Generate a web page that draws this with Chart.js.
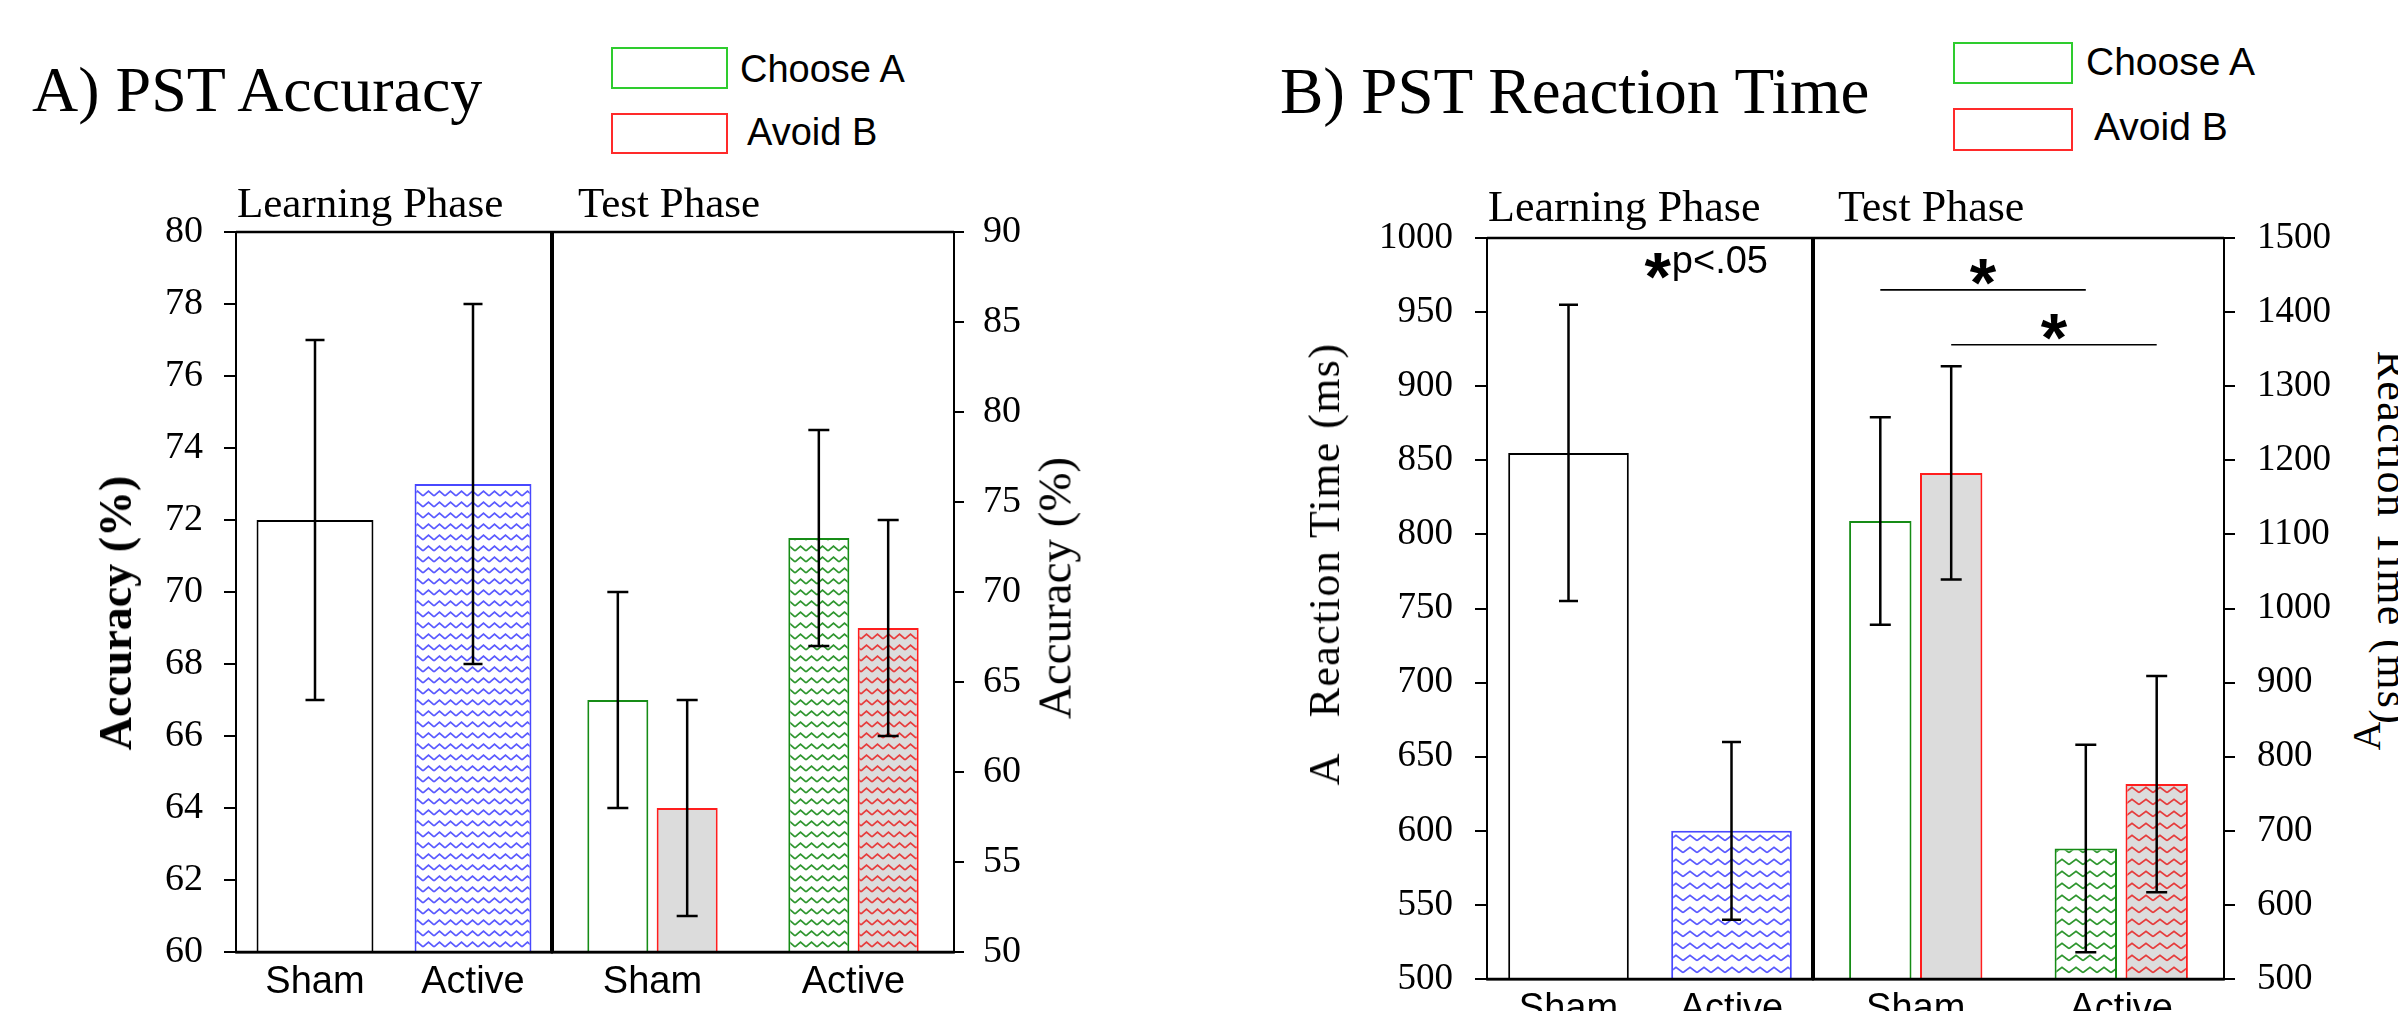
<!DOCTYPE html>
<html>
<head>
<meta charset="utf-8">
<script src="https://cdn.jsdelivr.net/npm/chart.js@4.4.1/dist/chart.umd.min.js"></script>
<style>
  html, body { margin: 0; padding: 0; background: #fff; }
  body { width: 2398px; height: 1011px; position: relative; overflow: hidden; }
  canvas { position: absolute; }
  .t { position: absolute; white-space: pre; line-height: 1; color: #000; }
  .serif { font-family: 'Liberation Serif', 'Times New Roman', serif; }
  .sans { font-family: 'Liberation Sans', Arial, sans-serif; }
  .box { position: absolute; box-sizing: border-box; border: 2px solid; background: #fff; }
</style>
</head>
<body>
<canvas id="accLearn"></canvas>
<canvas id="accTest"></canvas>
<canvas id="rtLearn"></canvas>
<canvas id="rtTest"></canvas>
<script>
// ---- data ----
const groups = ['Sham', 'Active'];

// panel A, accuracy (%)
const learnAcc = [72, 73];
const learnAccErr = [5, 5];
const testAccChooseA = [64, 73];      // right axis
const testAccChooseAErr = [6, 6];
const testAccAvoidB = [58, 68];
const testAccAvoidBErr = [6, 6];

// panel B, reaction time (ms)
const learnRT = [855, 600];
const learnRTErr = [100, 60];
const testRTChooseA = [1118, 676];    // right axis
const testRTChooseAErr = [140, 140];
const testRTAvoidB = [1183, 763];
const testRTAvoidBErr = [144, 146];

// significance bars over the test phase (right axis units)
const rtSigLines = [
  { dataset: 0, from: 0, to: 1, y: 1430 },
  { dataset: 1, from: 0, to: 1, y: 1356 }
];

// axis ranges [min, max, step]
const accLeftRange = [60, 80, 2];
const accRightRange = [50, 90, 5];
const rtLeftRange = [500, 1000, 50];
const rtRightRange = [500, 1500, 100];

const serif = "'Liberation Serif', 'Times New Roman', serif";
const sans = "'Liberation Sans', Arial, sans-serif";

// ---- text outside the plots ----
function addText(txt, x, baseline, size, cls, extra) {
  const d = document.createElement('div');
  d.className = 't ' + cls;
  d.textContent = txt;
  const k = cls === 'serif' ? 0.8375 : 0.8465;
  d.style.left = x + 'px';
  d.style.top = (baseline - k * size) + 'px';
  d.style.fontSize = size + 'px';
  if (extra) Object.assign(d.style, extra);
  document.body.appendChild(d);
}
function addRotated(txt, cx, cy, size, deg, extra) {
  const d = document.createElement('div');
  d.className = 't serif';
  d.textContent = txt;
  d.style.left = cx + 'px';
  d.style.top = cy + 'px';
  d.style.fontSize = size + 'px';
  d.style.transform = 'translate(-50%, -50%) rotate(' + deg + 'deg)';
  if (extra) Object.assign(d.style, extra);
  document.body.appendChild(d);
}
function addBox(x, y, w, h, color) {
  const d = document.createElement('div');
  d.className = 'box';
  Object.assign(d.style, { left: x + 'px', top: y + 'px', width: w + 'px', height: h + 'px', borderColor: color });
  document.body.appendChild(d);
}

addText('A) PST Accuracy', 32, 112, 64, 'serif');
addText('B) PST Reaction Time', 1280, 113, 65, 'serif');

addBox(611, 47, 117, 42, '#2ecc2e');
addBox(611, 113, 117, 41, '#ff2a2a');
addText('Choose A', 740, 82, 38, 'sans');
addText('Avoid B', 747, 145, 38, 'sans');

addBox(1953, 42, 120, 42, '#2ecc2e');
addBox(1953, 108, 120, 43, '#ff2a2a');
addText('Choose A', 2086, 75, 39, 'sans');
addText('Avoid B', 2094, 140, 39, 'sans');

addText('Learning Phase', 237, 217, 43, 'serif');
addText('Test Phase', 578, 217, 43, 'serif');
addText('Learning Phase', 1488, 222, 44, 'serif');
addText('Test Phase', 1838, 222, 44, 'serif');

addRotated('Accuracy (%)', 116, 613, 46, -90, { fontWeight: 'bold' });
addRotated('Accuracy (%)', 1055, 588, 47, -90);
addRotated('A   Reaction Time (ms)', 1325, 564, 44, -90, { letterSpacing: '1.4px' });
addRotated('Reaction Time (ms)', 2392, 538, 44, 90, { letterSpacing: '1.4px' });
addRotated('A', 2367, 736, 40, -90);

// ---- hatch patterns ----
function zigzag(line, bg, w, h) {
  const c = document.createElement('canvas');
  c.width = w; c.height = h;
  const g = c.getContext('2d');
  g.fillStyle = bg;
  g.fillRect(0, 0, w, h);
  g.strokeStyle = line;
  g.lineWidth = 1.8;
  g.beginPath();
  g.moveTo(0, h * 0.72);
  g.lineTo(w / 2, h * 0.28);
  g.lineTo(w, h * 0.72);
  g.stroke();
  return g.createPattern(c, 'repeat');
}
const patA = {
  blue: zigzag('#5a5aff', '#ffffff', 11, 11),
  green: zigzag('#2f962f', '#ffffff', 11, 11),
  red: zigzag('#e63c3c', '#dcdcdc', 11, 11)
};
const patB = {
  blue: zigzag('#5a5aff', '#ffffff', 14, 12),
  green: zigzag('#2f962f', '#ffffff', 14, 12),
  red: zigzag('#e63c3c', '#dcdcdc', 14, 12)
};

// ---- plugins ----
const frame = {
  id: 'frame',
  afterDatasetsDraw(chart, args, o) {
    const { ctx, chartArea: a } = chart;
    ctx.save();
    ctx.strokeStyle = '#000';
    ctx.lineWidth = 2.5;
    ctx.beginPath();
    ctx.moveTo(a.left, a.top); ctx.lineTo(a.right, a.top);
    ctx.moveTo(a.left, a.bottom); ctx.lineTo(a.right, a.bottom);
    ctx.stroke();
    const x = o.divider === 'right' ? a.right : a.left;
    ctx.lineWidth = 4;
    ctx.beginPath();
    ctx.moveTo(x, a.top - 1); ctx.lineTo(x, a.bottom + 1);
    ctx.stroke();
    ctx.restore();
  }
};

const errorBars = {
  id: 'errorBars',
  afterDatasetsDraw(chart, args, o) {
    const { ctx } = chart;
    ctx.save();
    ctx.strokeStyle = '#000';
    ctx.lineWidth = 2.5;
    chart.data.datasets.forEach((ds, i) => {
      const meta = chart.getDatasetMeta(i);
      const ys = chart.scales[meta.yAxisID];
      meta.data.forEach((bar, j) => {
        const v = ds.data[j], e = ds.errors[j];
        const top = ys.getPixelForValue(v + e);
        const bot = ys.getPixelForValue(v - e);
        const h = o.cap / 2;
        ctx.beginPath();
        ctx.moveTo(bar.x, top); ctx.lineTo(bar.x, bot);
        ctx.moveTo(bar.x - h, top); ctx.lineTo(bar.x + h, top);
        ctx.moveTo(bar.x - h, bot); ctx.lineTo(bar.x + h, bot);
        ctx.stroke();
      });
    });
    ctx.restore();
  }
};

function drawStar(ctx, cx, cy) {
  ctx.font = 'bold 68px ' + sans;
  ctx.textAlign = 'center';
  ctx.textBaseline = 'alphabetic';
  const m = ctx.measureText('*');
  ctx.fillText('*', cx, cy + (m.actualBoundingBoxAscent - m.actualBoundingBoxDescent) / 2);
}

const sigMarks = {
  id: 'sigMarks',
  afterDatasetsDraw(chart, args, o) {
    const { ctx, chartArea: a } = chart;
    ctx.save();
    ctx.strokeStyle = '#000';
    ctx.fillStyle = '#000';
    if (o.lines) {
      const ys = chart.scales.y;
      o.lines.forEach(s => {
        const bars = chart.getDatasetMeta(s.dataset).data;
        const x1 = bars[s.from].x, x2 = bars[s.to].x;
        const y = ys.getPixelForValue(s.y);
        ctx.lineWidth = 1.6;
        ctx.beginPath();
        ctx.moveTo(x1, y); ctx.lineTo(x2, y);
        ctx.stroke();
        drawStar(ctx, (x1 + x2) / 2, y - 18);
      });
    }
    if (o.note) {
      ctx.font = '38px ' + sans;
      ctx.textAlign = 'right';
      ctx.textBaseline = 'alphabetic';
      const xr = a.right - 45;
      ctx.fillText(o.note, xr, a.top + 35);
      const w = ctx.measureText(o.note).width;
      drawStar(ctx, xr - w - 14, a.top + 28);
    }
    ctx.restore();
  }
};

// ---- axes ----
function yAxis(range, position, tickLen, pad, width, size) {
  return {
    position: position,
    min: range[0],
    max: range[1],
    ticks: {
      stepSize: range[2],
      padding: pad,
      color: '#000',
      font: { family: serif, size: size },
      callback: v => String(v)
    },
    grid: { drawOnChartArea: false, drawTicks: true, tickLength: tickLen, color: '#000', lineWidth: 2 },
    border: { display: true, color: '#000', width: 2 },
    afterFit: s => { s.width = width; s.paddingTop = 0; s.paddingBottom = 0; }
  };
}
function xAxis(height, size, pad) {
  return {
    ticks: { color: '#000', padding: pad, font: { family: sans, size: size } },
    grid: { display: false, drawTicks: false },
    border: { display: true, color: '#000', width: 2.5 },
    afterFit: s => { s.height = height; s.paddingLeft = 0; s.paddingRight = 0; }
  };
}

function place(id, left, top, width, height) {
  const c = document.getElementById(id);
  c.width = width; c.height = height;
  c.style.left = left + 'px';
  c.style.top = top + 'px';
  return c;
}

const common = {
  responsive: false,
  animation: false,
  devicePixelRatio: 1
};

// ---- panel A ----
new Chart(place('accLearn', 126, 202, 434, 809), {
  type: 'bar',
  data: {
    labels: groups,
    datasets: [{
      data: learnAcc,
      errors: learnAccErr,
      backgroundColor: ['#ffffff', patA.blue],
      borderColor: ['#000000', '#4848ff'],
      borderWidth: 2,
      borderSkipped: false,
      categoryPercentage: 1,
      barPercentage: 0.74
    }]
  },
  options: Object.assign({}, common, {
    layout: { padding: { left: 10, right: 8, top: 30, bottom: 0 } },
    scales: {
      x: xAxis(59, 38, 8),
      y: yAxis(accLeftRange, 'left', 12, 21, 100, 38)
    },
    plugins: {
      legend: { display: false },
      tooltip: { enabled: false },
      frame: { divider: 'right' },
      errorBars: { cap: 19 }
    }
  }),
  plugins: [frame, errorBars]
});

new Chart(place('accTest', 542, 202, 502, 809), {
  type: 'bar',
  data: {
    labels: groups,
    datasets: [{
      label: 'Choose A',
      data: testAccChooseA,
      errors: testAccChooseAErr,
      backgroundColor: ['#ffffff', patA.green],
      borderColor: '#168c16',
      borderWidth: 2,
      borderSkipped: false,
      categoryPercentage: 0.69,
      barPercentage: 0.88
    }, {
      label: 'Avoid B',
      data: testAccAvoidB,
      errors: testAccAvoidBErr,
      backgroundColor: ['#dcdcdc', patA.red],
      borderColor: '#ff1e1e',
      borderWidth: 2,
      borderSkipped: false,
      categoryPercentage: 0.69,
      barPercentage: 0.88
    }]
  },
  options: Object.assign({}, common, {
    layout: { padding: { left: 10, right: 0, top: 30, bottom: 0 } },
    scales: {
      x: xAxis(59, 38, 8),
      y: yAxis(accRightRange, 'right', 10, 19, 90, 38)
    },
    plugins: {
      legend: { display: false },
      tooltip: { enabled: false },
      frame: { divider: 'left' },
      errorBars: { cap: 21 }
    }
  }),
  plugins: [frame, errorBars]
});

// ---- panel B ----
new Chart(place('rtLearn', 1347, 208, 474, 803), {
  type: 'bar',
  data: {
    labels: groups,
    datasets: [{
      data: learnRT,
      errors: learnRTErr,
      backgroundColor: ['#ffffff', patB.blue],
      borderColor: ['#000000', '#4848ff'],
      borderWidth: 2,
      borderSkipped: false,
      categoryPercentage: 1,
      barPercentage: 0.74
    }]
  },
  options: Object.assign({}, common, {
    layout: { padding: { left: 10, right: 8, top: 30, bottom: 0 } },
    scales: {
      x: xAxis(32, 38, 8),
      y: yAxis(rtLeftRange, 'left', 12, 22, 130, 37)
    },
    plugins: {
      legend: { display: false },
      tooltip: { enabled: false },
      frame: { divider: 'right' },
      errorBars: { cap: 19 },
      sigMarks: { note: 'p<.05' }
    }
  }),
  plugins: [frame, errorBars, sigMarks]
});

new Chart(place('rtTest', 1803, 208, 531, 803), {
  type: 'bar',
  data: {
    labels: groups,
    datasets: [{
      label: 'Choose A',
      data: testRTChooseA,
      errors: testRTChooseAErr,
      backgroundColor: ['#ffffff', patB.green],
      borderColor: '#168c16',
      borderWidth: 2,
      borderSkipped: false,
      categoryPercentage: 0.69,
      barPercentage: 0.88
    }, {
      label: 'Avoid B',
      data: testRTAvoidB,
      errors: testRTAvoidBErr,
      backgroundColor: ['#dcdcdc', patB.red],
      borderColor: '#ff1e1e',
      borderWidth: 2,
      borderSkipped: false,
      categoryPercentage: 0.69,
      barPercentage: 0.88
    }]
  },
  options: Object.assign({}, common, {
    layout: { padding: { left: 10, right: 0, top: 30, bottom: 0 } },
    scales: {
      x: xAxis(32, 38, 8),
      y: yAxis(rtRightRange, 'right', 11, 22, 110, 37)
    },
    plugins: {
      legend: { display: false },
      tooltip: { enabled: false },
      frame: { divider: 'left' },
      errorBars: { cap: 21 },
      sigMarks: { lines: rtSigLines }
    }
  }),
  plugins: [frame, errorBars, sigMarks]
});
</script>
</body>
</html>
